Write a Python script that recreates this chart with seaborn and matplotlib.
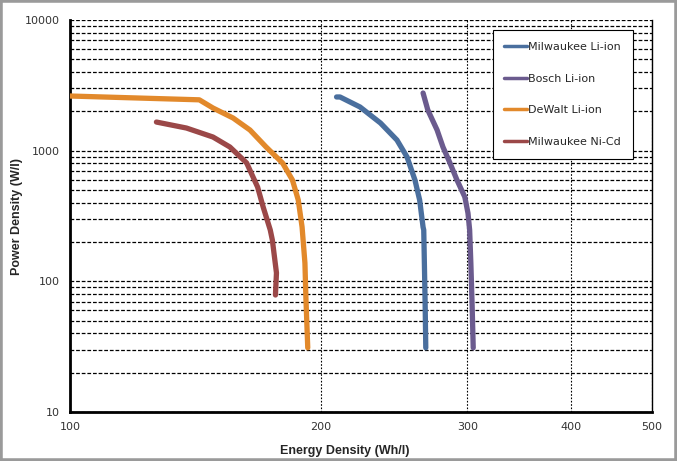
import matplotlib
matplotlib.use("Agg")
import matplotlib.pyplot as plt
import matplotlib.ticker as mticker
from matplotlib.patches import Rectangle
from matplotlib.lines import Line2D
import pandas as pd
import seaborn as sns

# energy density (Wh/l) vs power density (W/l)
milwaukee_li_x = [209, 211, 223, 236, 247, 254, 259.6, 263, 265.5, 266, 267, 267.5]
milwaukee_li_y = [2576, 2576, 2160, 1628, 1206, 894, 596, 419, 260, 247, 69.5, 31]

bosch_li_x = [265.5, 269, 276, 280.5, 286, 291.6, 298, 300.6, 302, 303, 304, 305]
bosch_li_y = [2762, 2048, 1439, 1067, 805, 596, 442, 333, 247, 138, 69.5, 31]

dewalt_li_x = [100, 143, 148.5, 157, 164.5, 172, 180, 185, 188, 190, 191.5, 192, 193]
dewalt_li_y = [2620, 2450, 2121, 1778, 1439, 1067, 805, 596, 419, 260, 138, 76, 31]

milwaukee_nicd_x = [127, 138, 148.5, 155.6, 163, 168, 170.6, 174, 175, 177, 176.5]
milwaukee_nicd_y = [1656, 1490, 1272, 1067, 805, 527, 371, 247, 207, 116, 78.6]

series_names = ["Milwaukee Li-ion", "Bosch Li-ion", "DeWalt Li-ion", "Milwaukee Ni-Cd"]
series_colors = ["#4a6f9e", "#6b5b8e", "#e2892b", "#9b4848"]

x_ticks = [100, 200, 300, 400, 500]
y_ticks = [10, 100, 1000, 10000]

frames = []
for name, xs, ys in zip(
    series_names,
    [milwaukee_li_x, bosch_li_x, dewalt_li_x, milwaukee_nicd_x],
    [milwaukee_li_y, bosch_li_y, dewalt_li_y, milwaukee_nicd_y],
):
    frames.append(pd.DataFrame({"energy": xs, "power": ys, "battery": name}))
df = pd.concat(frames, ignore_index=True)

sns.set_style("white")
plt.rcParams["font.family"] = ["DejaVu Sans"]

fig = plt.figure(figsize=(6.77, 4.61), dpi=100)
ax = fig.add_axes([0.1034, 0.1063, 0.8596, 0.8503])

sns.lineplot(data=df, x="energy", y="power", hue="battery", units="battery",
             estimator=None, sort=False, palette=dict(zip(series_names, series_colors)),
             linewidth=3.8, solid_capstyle="round", solid_joinstyle="round",
             ax=ax, legend=False, zorder=3)

ax.set_xscale("log")
ax.set_yscale("log")
ax.set_xlim(100, 500)
ax.set_ylim(10, 10000)

ax.xaxis.set_major_locator(mticker.FixedLocator(x_ticks))
ax.xaxis.set_major_formatter(mticker.FixedFormatter([str(v) for v in x_ticks]))
ax.xaxis.set_minor_locator(mticker.NullLocator())
ax.yaxis.set_major_locator(mticker.FixedLocator(y_ticks))
ax.yaxis.set_major_formatter(mticker.FixedFormatter([str(v) for v in y_ticks]))
ax.yaxis.set_minor_locator(mticker.LogLocator(base=10, subs=range(2, 10)))
ax.yaxis.set_minor_formatter(mticker.NullFormatter())

ax.grid(True, which="both", axis="y", color="black", linestyle=(0, (3, 1.5)), linewidth=0.9)
ax.grid(True, which="major", axis="x", color="black", linestyle=(0, (1.5, 1.5)), linewidth=0.8)

ax.tick_params(axis="y", which="major", direction="out", length=4, width=1,
               labelsize=8, labelcolor="#333333", pad=3)
ax.tick_params(axis="y", which="minor", length=0)
ax.tick_params(axis="x", which="major", direction="out", length=0,
               labelsize=8, labelcolor="#333333", pad=7)

for side in ["left", "bottom"]:
    ax.spines[side].set_linewidth(2)
    ax.spines[side].set_color("black")
ax.spines["top"].set_visible(False)
ax.spines["right"].set_linewidth(1)
ax.spines["right"].set_color("black")

ax.set_xlabel("Energy Density (Wh/l)", fontsize=9, fontweight="bold",
              family=["Liberation Sans", "DejaVu Sans"])
ax.set_ylabel("Power Density (W/l)", fontsize=9, fontweight="bold",
              family=["Liberation Sans", "DejaVu Sans"])
ax.xaxis.set_label_coords(0.4725, -0.085)
ax.yaxis.set_label_coords(-0.080, 0.5)

handles = [Line2D([0], [0], color=c, linewidth=2.5) for c in series_colors]
leg = ax.legend(handles, series_names, loc="upper right", bbox_to_anchor=(0.967, 0.974),
                borderaxespad=0, fontsize=8, frameon=True, fancybox=False,
                edgecolor="black", framealpha=1, handlelength=2.0, handletextpad=0.15,
                labelspacing=1.95, borderpad=1.05)
leg.get_frame().set_linewidth(0.8)
leg.set_zorder(5)

fig.patches.append(Rectangle((0, 0), 1, 1, transform=fig.transFigure, fill=False,
                             edgecolor="#9a9a9a", linewidth=4, zorder=10))

fig.savefig("out.png", dpi=100)
